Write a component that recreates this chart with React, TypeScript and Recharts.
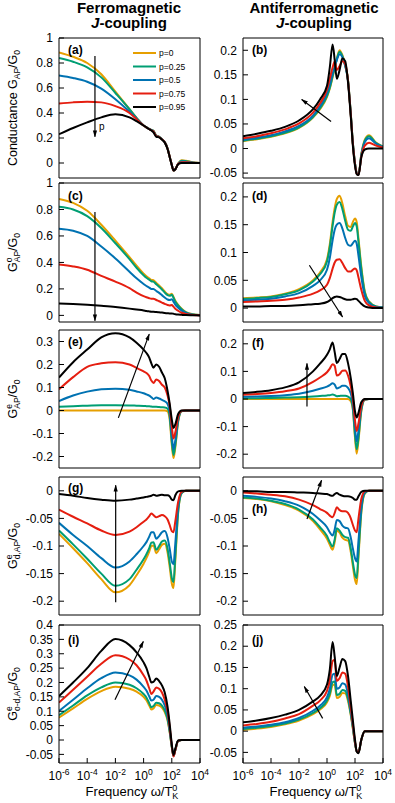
import React from "react";
import { LineChart, Line, XAxis, YAxis, ReferenceLine } from "recharts";

const FONT = "'Liberation Sans', Arial, Helvetica, sans-serif";

// log10(omega / T_K^0)
const logFreq = [-6, -5, -4, -3, -2, -1, -0.5, 0, 0.2, 0.4, 0.55, 0.7, 0.9, 1.1, 1.3, 1.5, 1.7, 1.85, 2.0, 2.12, 2.25, 2.45, 2.7, 3.0, 3.5, 4];
const pLabels = ["p=0", "p=0.25", "p=0.5", "p=0.75", "p=0.95"];
const colors = ["#e69f00", "#009e73", "#0072b2", "#e51e10", "#000000"];
const freqTicks = [-6, -4, -2, 0, 2, 4];

// (a) G_AP / G0, ferromagnetic
const panelA = [
  [0.885, 0.85, 0.8, 0.71, 0.57, 0.43, 0.36, 0.3, 0.285, 0.272, 0.265, 0.258, 0.22, 0.21, 0.19, 0.168, 0.115, 0.05, -0.015, -0.06, -0.05, -0.005, 0.022, 0.018, 0.005, 0],
  [0.84, 0.81, 0.765, 0.685, 0.56, 0.43, 0.36, 0.3, 0.285, 0.272, 0.265, 0.257, 0.219, 0.21, 0.19, 0.168, 0.115, 0.05, -0.015, -0.06, -0.05, -0.006, 0.018, 0.015, 0.004, 0],
  [0.7, 0.68, 0.65, 0.595, 0.51, 0.41, 0.355, 0.3, 0.285, 0.272, 0.264, 0.255, 0.217, 0.209, 0.19, 0.167, 0.115, 0.05, -0.015, -0.06, -0.05, -0.007, 0.013, 0.011, 0.003, 0],
  [0.475, 0.485, 0.49, 0.485, 0.455, 0.4, 0.35, 0.3, 0.285, 0.271, 0.262, 0.252, 0.215, 0.208, 0.189, 0.166, 0.114, 0.05, -0.015, -0.06, -0.05, -0.008, 0.007, 0.006, 0.002, 0],
  [0.23, 0.28, 0.325, 0.365, 0.39, 0.365, 0.335, 0.3, 0.285, 0.27, 0.26, 0.245, 0.21, 0.205, 0.187, 0.163, 0.112, 0.048, -0.017, -0.06, -0.05, -0.01, 0, 0, 0, 0],
];
// (b) G_AP / G0, antiferromagnetic
const panelB = [
  [0.015, 0.019, 0.024, 0.031, 0.042, 0.063, 0.08, 0.105, 0.122, 0.145, 0.163, 0.183, 0.2, 0.19, 0.17, 0.14, 0.07, 0.01, -0.03, -0.05, -0.054, -0.012, 0.018, 0.027, 0.012, 0.004],
  [0.016, 0.02, 0.025, 0.032, 0.043, 0.064, 0.082, 0.107, 0.124, 0.147, 0.164, 0.182, 0.197, 0.188, 0.169, 0.139, 0.07, 0.01, -0.03, -0.05, -0.054, -0.013, 0.016, 0.025, 0.011, 0.004],
  [0.018, 0.022, 0.027, 0.035, 0.046, 0.067, 0.086, 0.112, 0.13, 0.152, 0.166, 0.18, 0.192, 0.186, 0.168, 0.138, 0.07, 0.01, -0.03, -0.05, -0.054, -0.014, 0.013, 0.021, 0.01, 0.003],
  [0.021, 0.025, 0.031, 0.039, 0.051, 0.073, 0.092, 0.12, 0.142, 0.165, 0.177, 0.16, 0.168, 0.178, 0.172, 0.138, 0.068, 0.008, -0.032, -0.051, -0.054, -0.017, 0.006, 0.012, 0.006, 0.002],
  [0.025, 0.03, 0.036, 0.044, 0.057, 0.08, 0.1, 0.128, 0.165, 0.212, 0.18, 0.142, 0.16, 0.184, 0.178, 0.135, 0.065, 0.005, -0.035, -0.052, -0.054, -0.018, -0.002, 0, 0, 0],
];
// (c) G^o_AP / G0, ferromagnetic
const panelC = [
  [0.88, 0.85, 0.79, 0.685, 0.565, 0.44, 0.375, 0.315, 0.295, 0.28, 0.268, 0.265, 0.245, 0.225, 0.205, 0.18, 0.16, 0.155, 0.163, 0.14, 0.11, 0.08, 0.05, 0.025, 0.008, 0.002],
  [0.82, 0.8, 0.75, 0.66, 0.545, 0.425, 0.36, 0.303, 0.284, 0.27, 0.258, 0.255, 0.235, 0.216, 0.196, 0.172, 0.153, 0.148, 0.155, 0.133, 0.104, 0.075, 0.046, 0.022, 0.007, 0.002],
  [0.655, 0.64, 0.6, 0.52, 0.43, 0.33, 0.28, 0.237, 0.222, 0.21, 0.2, 0.2, 0.184, 0.17, 0.153, 0.135, 0.12, 0.116, 0.122, 0.104, 0.08, 0.058, 0.036, 0.018, 0.005, 0.001],
  [0.385, 0.37, 0.345, 0.298, 0.255, 0.205, 0.172, 0.145, 0.137, 0.13, 0.126, 0.126, 0.116, 0.107, 0.097, 0.087, 0.078, 0.075, 0.078, 0.066, 0.05, 0.035, 0.02, 0.01, 0.003, 0.001],
  [0.09, 0.086, 0.08, 0.072, 0.063, 0.051, 0.044, 0.037, 0.033, 0.03, 0.028, 0.028, 0.025, 0.023, 0.021, 0.018, 0.016, 0.015, 0.015, 0.012, 0.009, 0.006, 0.004, 0.002, 0.001, 0],
];
// (d) G^o_AP / G0, antiferromagnetic
const panelD = [
  [0.0175, 0.019, 0.021, 0.026, 0.034, 0.05, 0.064, 0.088, 0.115, 0.155, 0.18, 0.196, 0.202, 0.188, 0.165, 0.148, 0.146, 0.155, 0.161, 0.155, 0.125, 0.075, 0.03, 0.012, 0.003, 0.001],
  [0.0165, 0.018, 0.02, 0.025, 0.032, 0.048, 0.061, 0.084, 0.11, 0.148, 0.172, 0.186, 0.191, 0.178, 0.157, 0.141, 0.139, 0.147, 0.153, 0.147, 0.119, 0.071, 0.028, 0.011, 0.003, 0.001],
  [0.014, 0.015, 0.017, 0.021, 0.027, 0.04, 0.05, 0.069, 0.09, 0.122, 0.141, 0.15, 0.153, 0.143, 0.126, 0.114, 0.112, 0.117, 0.121, 0.116, 0.094, 0.056, 0.022, 0.009, 0.002, 0.001],
  [0.011, 0.012, 0.013, 0.015, 0.019, 0.026, 0.032, 0.042, 0.054, 0.071, 0.082, 0.087, 0.088, 0.081, 0.072, 0.066, 0.066, 0.069, 0.071, 0.068, 0.055, 0.033, 0.013, 0.005, 0.001, 0],
  [0.003, 0.003, 0.004, 0.004, 0.005, 0.007, 0.008, 0.011, 0.014, 0.018, 0.02, 0.021, 0.02, 0.018, 0.016, 0.015, 0.015, 0.016, 0.017, 0.016, 0.013, 0.008, 0.003, 0.001, 0, 0],
];
// (e) G^e_AP / G0, ferromagnetic
const panelE = [
  [0, 0, 0, 0, 0, 0, 0, 0, 0, 0, 0, 0, 0, 0, 0, 0, -0.004, -0.04, -0.15, -0.207, -0.16, -0.05, -0.003, 0, 0, 0],
  [0.016, 0.019, 0.021, 0.023, 0.023, 0.022, 0.021, 0.02, 0.019, 0.018, 0.017, 0.016, 0.016, 0.015, 0.014, 0.013, 0.008, -0.025, -0.135, -0.193, -0.15, -0.045, -0.002, 0, 0, 0],
  [0.041, 0.065, 0.082, 0.092, 0.095, 0.09, 0.083, 0.075, 0.07, 0.065, 0.058, 0.05, 0.056, 0.052, 0.046, 0.04, 0.028, -0.005, -0.11, -0.168, -0.13, -0.04, -0.002, 0, 0, 0],
  [0.092, 0.145, 0.19, 0.205, 0.21, 0.2, 0.185, 0.17, 0.163, 0.15, 0.13, 0.12, 0.135, 0.128, 0.112, 0.1, 0.065, 0.02, -0.07, -0.122, -0.095, -0.028, -0.001, 0, 0, 0],
  [0.143, 0.21, 0.265, 0.318, 0.336, 0.318, 0.295, 0.265, 0.25, 0.23, 0.205, 0.186, 0.2, 0.19, 0.165, 0.14, 0.085, 0.03, -0.04, -0.076, -0.06, -0.015, 0, 0, 0, 0],
];
// (f) G^e_AP / G0, antiferromagnetic
const panelF = [
  [0, 0, 0, 0, 0, 0, 0, 0, 0, 0, 0, 0, 0, 0, 0, 0, -0.008, -0.04, -0.14, -0.198, -0.15, -0.045, -0.003, 0, 0, 0],
  [0.003, 0.003, 0.004, 0.005, 0.006, 0.009, 0.011, 0.013, 0.014, 0.016, 0.014, 0.01, 0.011, 0.012, 0.012, 0.009, 0, -0.035, -0.13, -0.182, -0.14, -0.04, -0.002, 0, 0, 0],
  [0.008, 0.009, 0.011, 0.014, 0.019, 0.03, 0.037, 0.045, 0.05, 0.057, 0.052, 0.038, 0.042, 0.048, 0.048, 0.04, 0.02, -0.02, -0.105, -0.153, -0.115, -0.033, -0.002, 0, 0, 0],
  [0.015, 0.018, 0.022, 0.028, 0.038, 0.062, 0.078, 0.097, 0.11, 0.126, 0.12, 0.085, 0.09, 0.102, 0.103, 0.085, 0.045, 0, -0.078, -0.116, -0.088, -0.025, -0.001, 0, 0, 0],
  [0.022, 0.026, 0.032, 0.042, 0.06, 0.1, 0.128, 0.16, 0.18, 0.205, 0.17, 0.13, 0.145, 0.163, 0.163, 0.13, 0.075, 0.02, -0.045, -0.067, -0.05, -0.012, 0, 0, 0, 0],
];
// (g) G^e_d,AP / G0, ferromagnetic
const panelG = [
  [-0.078, -0.104, -0.131, -0.16, -0.184, -0.171, -0.153, -0.132, -0.122, -0.11, -0.1, -0.099, -0.113, -0.106, -0.098, -0.096, -0.112, -0.138, -0.168, -0.176, -0.126, -0.04, -0.004, 0, 0, 0],
  [-0.072, -0.097, -0.123, -0.15, -0.172, -0.16, -0.143, -0.124, -0.115, -0.104, -0.094, -0.093, -0.107, -0.1, -0.092, -0.09, -0.105, -0.13, -0.158, -0.165, -0.118, -0.038, -0.004, 0, 0, 0],
  [-0.058, -0.08, -0.1, -0.122, -0.139, -0.128, -0.115, -0.1, -0.093, -0.083, -0.075, -0.075, -0.087, -0.082, -0.075, -0.073, -0.085, -0.105, -0.128, -0.133, -0.095, -0.03, -0.003, 0, 0, 0],
  [-0.034, -0.047, -0.059, -0.072, -0.08, -0.074, -0.066, -0.056, -0.052, -0.046, -0.041, -0.044, -0.048, -0.046, -0.044, -0.046, -0.052, -0.062, -0.073, -0.075, -0.055, -0.02, -0.002, 0, 0, 0],
  [-0.006, -0.009, -0.013, -0.016, -0.018, -0.016, -0.014, -0.012, -0.011, -0.01, -0.009, -0.007, -0.009, -0.008, -0.007, -0.008, -0.008, -0.01, -0.016, -0.017, -0.008, -0.001, 0, 0, 0, 0],
];
// (h) G^e_d,AP / G0, antiferromagnetic
const panelH = [
  [-0.013, -0.015, -0.019, -0.026, -0.036, -0.055, -0.07, -0.087, -0.098, -0.107, -0.093, -0.072, -0.076, -0.085, -0.089, -0.09, -0.111, -0.137, -0.161, -0.169, -0.12, -0.04, -0.005, 0, 0, 0],
  [-0.012, -0.014, -0.018, -0.024, -0.034, -0.052, -0.066, -0.082, -0.093, -0.101, -0.088, -0.068, -0.072, -0.08, -0.084, -0.085, -0.105, -0.13, -0.152, -0.158, -0.112, -0.037, -0.004, 0, 0, 0],
  [-0.009, -0.011, -0.014, -0.019, -0.027, -0.042, -0.053, -0.066, -0.075, -0.081, -0.07, -0.053, -0.055, -0.063, -0.067, -0.068, -0.085, -0.105, -0.122, -0.128, -0.09, -0.03, -0.003, 0, 0, 0],
  [-0.003, -0.005, -0.007, -0.01, -0.016, -0.026, -0.033, -0.04, -0.045, -0.048, -0.04, -0.03, -0.035, -0.037, -0.037, -0.04, -0.05, -0.062, -0.072, -0.075, -0.05, -0.015, -0.001, 0, 0, 0],
  [-0.001, -0.001, -0.002, -0.002, -0.003, -0.004, -0.005, -0.006, -0.008, -0.009, -0.006, -0.004, -0.007, -0.009, -0.01, -0.01, -0.011, -0.013, -0.016, -0.016, -0.01, -0.002, 0, 0, 0, 0],
];
// (i) G^e_o-d,AP / G0, ferromagnetic
const panelI = [
  [0.078, 0.11, 0.143, 0.17, 0.185, 0.178, 0.168, 0.15, 0.138, 0.12, 0.106, 0.11, 0.122, 0.12, 0.113, 0.097, 0.068, 0.027, -0.025, -0.055, -0.035, -0.003, 0, 0, 0, 0],
  [0.086, 0.12, 0.155, 0.183, 0.2, 0.192, 0.18, 0.16, 0.148, 0.128, 0.114, 0.118, 0.13, 0.128, 0.12, 0.103, 0.073, 0.03, -0.024, -0.055, -0.035, -0.003, 0, 0, 0, 0],
  [0.101, 0.14, 0.18, 0.215, 0.235, 0.225, 0.21, 0.185, 0.172, 0.152, 0.137, 0.14, 0.153, 0.15, 0.14, 0.12, 0.085, 0.035, -0.022, -0.056, -0.035, -0.003, 0, 0, 0, 0],
  [0.13, 0.175, 0.22, 0.265, 0.295, 0.28, 0.26, 0.225, 0.207, 0.18, 0.16, 0.168, 0.183, 0.178, 0.165, 0.14, 0.1, 0.045, -0.02, -0.057, -0.035, -0.003, 0, 0, 0, 0],
  [0.153, 0.2, 0.25, 0.31, 0.351, 0.33, 0.305, 0.27, 0.25, 0.22, 0.2, 0.202, 0.214, 0.205, 0.19, 0.165, 0.115, 0.055, -0.015, -0.052, -0.03, -0.002, 0, 0, 0, 0],
];
// (j) G^e_o-d,AP / G0, antiferromagnetic
const panelJ = [
  [0.003, 0.006, 0.01, 0.016, 0.025, 0.04, 0.051, 0.068, 0.083, 0.108, 0.11, 0.078, 0.081, 0.09, 0.089, 0.071, 0.037, 0.005, -0.028, -0.047, -0.05, -0.02, 0, 0, 0, 0],
  [0.005, 0.008, 0.012, 0.018, 0.027, 0.043, 0.054, 0.072, 0.088, 0.115, 0.117, 0.085, 0.088, 0.097, 0.095, 0.076, 0.04, 0.007, -0.028, -0.047, -0.05, -0.02, 0, 0, 0, 0],
  [0.008, 0.011, 0.015, 0.021, 0.031, 0.048, 0.06, 0.08, 0.1, 0.133, 0.135, 0.1, 0.103, 0.113, 0.11, 0.087, 0.045, 0.01, -0.027, -0.047, -0.05, -0.02, 0, 0, 0, 0],
  [0.0135, 0.017, 0.022, 0.03, 0.04, 0.06, 0.072, 0.095, 0.12, 0.165, 0.168, 0.118, 0.125, 0.138, 0.135, 0.105, 0.055, 0.015, -0.025, -0.047, -0.05, -0.02, 0, 0, 0, 0],
  [0.021, 0.025, 0.031, 0.039, 0.05, 0.07, 0.083, 0.11, 0.145, 0.21, 0.175, 0.13, 0.15, 0.17, 0.165, 0.13, 0.07, 0.025, -0.02, -0.048, -0.052, -0.02, 0, 0, 0, 0],
];

const rowTop = [38, 183, 330, 477, 625];
const rowBottom = [178, 322, 468, 615, 763];
const colLeft = [59, 243];
const colWidth = [141, 140];
const PAD = 9; // room around each plot so edge tick labels are not clipped

type PanelSpec = {
  tag: string;
  col: number;
  row: number;
  domain: [number, number];
  ticks: number[];
  series: number[][];
  arrow: [[number, number], [number, number]];
  tagDy: number;
};

const panels: PanelSpec[] = [
  { tag: "(a)", col: 0, row: 0, domain: [-0.12, 1], ticks: [0, 0.2, 0.4, 0.6, 0.8, 1], series: panelA, arrow: [[-3.45, 0.857], [-3.45, 0.21]], tagDy: 16 },
  { tag: "(b)", col: 1, row: 0, domain: [-0.06, 0.225], ticks: [-0.05, 0, 0.05, 0.1, 0.15, 0.2], series: panelB, arrow: [[0.29, 0.055], [-1.81, 0.1]], tagDy: 16 },
  { tag: "(c)", col: 0, row: 1, domain: [-0.05, 1], ticks: [0, 0.2, 0.4, 0.6, 0.8, 1], series: panelC, arrow: [[-3.45, 0.78], [-3.45, -0.04]], tagDy: 17 },
  { tag: "(d)", col: 1, row: 1, domain: [-0.025, 0.225], ticks: [0, 0.05, 0.1, 0.15, 0.2], series: panelD, arrow: [[-1.26, 0.077], [1.11, -0.016]], tagDy: 17 },
  { tag: "(e)", col: 0, row: 2, domain: [-0.25, 0.35], ticks: [-0.2, -0.1, 0, 0.1, 0.2, 0.3], series: panelE, arrow: [[-1.79, -0.032], [0.4, 0.332]], tagDy: 16 },
  { tag: "(f)", col: 1, row: 2, domain: [-0.25, 0.25], ticks: [-0.2, -0.1, 0, 0.1, 0.2], series: panelF, arrow: [[-1.43, -0.027], [-1.43, 0.129]], tagDy: 17 },
  { tag: "(g)", col: 0, row: 3, domain: [-0.225, 0.025], ticks: [-0.2, -0.15, -0.1, -0.05, 0], series: panelG, arrow: [[-1.98, -0.202], [-1.98, 0.01]], tagDy: 15 },
  { tag: "(h)", col: 1, row: 3, domain: [-0.225, 0.025], ticks: [-0.2, -0.15, -0.1, -0.05, 0], series: panelH, arrow: [[-1.43, -0.051], [-0.39, 0.019]], tagDy: 36 },
  { tag: "(i)", col: 0, row: 4, domain: [-0.08, 0.4], ticks: [-0.05, 0, 0.05, 0.1, 0.15, 0.2, 0.25, 0.3, 0.35, 0.4], series: panelI, arrow: [[-2.03, 0.14], [-0.02, 0.343]], tagDy: 19 },
  { tag: "(j)", col: 1, row: 4, domain: [-0.075, 0.25], ticks: [-0.05, 0, 0.05, 0.1, 0.15, 0.2, 0.25], series: panelJ, arrow: [[-0.31, 0.03], [-1.62, 0.105]], tagDy: 19 },
];

const fmt = (v: number) => String(Math.round(v * 1000) / 1000);

const PowTick = (props: any) => {
  const { x, y, payload } = props;
  return (
    <text x={x} y={y + 12} textAnchor="middle" fontSize={12} fontFamily={FONT} fill="#000">
      10
      <tspan dy={-5} fontSize={8.5}>
        {payload.value}
      </tspan>
    </text>
  );
};

const ArrowShape = (props: any) => (
  <line x1={props.x1} y1={props.y1} x2={props.x2} y2={props.y2} stroke="#000" strokeWidth={1.2} markerEnd="url(#ahead)" />
);

const Panel = ({ spec }: { spec: PanelSpec }) => {
  const yW = spec.col === 0 ? 59 : 50;
  const plotW = colWidth[spec.col];
  const plotH = rowBottom[spec.row] - rowTop[spec.row];
  const bottomH = spec.row === 4 ? 34 : 2;
  const width = yW + plotW + 2 + PAD + 3;
  const height = PAD + 2 + plotH + bottomH + PAD;
  const data = logFreq.map((x, i) => {
    const r: any = { x };
    spec.series.forEach((s, k) => (r["s" + k] = s[i]));
    return r;
  });
  return (
    <div style={{ position: "absolute", left: colLeft[spec.col] - yW, top: rowTop[spec.row] - 2 - PAD }}>
      <LineChart width={width} height={height} data={data} margin={{ top: PAD, right: PAD + 3, bottom: PAD, left: 0 }}>
        <XAxis
          xAxisId="b"
          dataKey="x"
          type="number"
          domain={[-6, 4]}
          ticks={freqTicks}
          allowDataOverflow
          orientation="bottom"
          height={bottomH}
          stroke="#000"
          tickSize={-5}
          tickMargin={10}
          interval={0}
          tick={spec.row === 4 ? <PowTick /> : false}
        />
        <XAxis
          xAxisId="t"
          dataKey="x"
          type="number"
          domain={[-6, 4]}
          ticks={freqTicks}
          allowDataOverflow
          orientation="top"
          height={2}
          stroke="#000"
          tickSize={-5}
          interval={0}
          tick={false}
        />
        <YAxis
          yAxisId="l"
          type="number"
          domain={spec.domain}
          ticks={spec.ticks}
          allowDataOverflow
          width={yW}
          stroke="#000"
          tickSize={-5}
          tickMargin={11}
          interval={0}
          tickFormatter={fmt}
          tick={{ fontSize: 12, fill: "#000", fontFamily: FONT }}
        />
        <YAxis
          yAxisId="r"
          orientation="right"
          type="number"
          domain={spec.domain}
          ticks={spec.ticks}
          allowDataOverflow
          width={2}
          stroke="#000"
          tickSize={-5}
          interval={0}
          tick={false}
        />
        {spec.series.map((_, k) => (
          <Line
            key={k}
            xAxisId="b"
            yAxisId="l"
            type="monotone"
            dataKey={"s" + k}
            stroke={colors[k]}
            strokeWidth={2}
            dot={false}
            isAnimationActive={false}
          />
        ))}
        <ReferenceLine
          xAxisId="b"
          yAxisId="l"
          segment={[
            { x: spec.arrow[0][0], y: spec.arrow[0][1] },
            { x: spec.arrow[1][0], y: spec.arrow[1][1] },
          ]}
          shape={ArrowShape}
        />
      </LineChart>
    </div>
  );
};

const yLabels = [
  { row: 0, main: "Conductance G", sup: "", sub: "AP" },
  { row: 1, main: "G", sup: "o", sub: "AP" },
  { row: 2, main: "G", sup: "e", sub: "AP" },
  { row: 3, main: "G", sup: "e", sub: "d,AP" },
  { row: 4, main: "G", sup: "e", sub: "o-d,AP" },
];

const YLabel = ({ row, main, sup, sub }: { row: number; main: string; sup: string; sub: string }) => {
  const cy = (rowTop[row] + rowBottom[row]) / 2;
  return (
    <text transform={`translate(17, ${cy}) rotate(-90)`} textAnchor="middle" fontSize={12.5} fontFamily={FONT} fill="#000">
      {main}
      {sup ? (
        <>
          <tspan dy={-5} fontSize={8.5}>{sup}</tspan>
          <tspan dx={-4.7} dy={8} fontSize={8.5}>{sub}</tspan>
        </>
      ) : (
        <tspan dy={3} fontSize={8.5}>{sub}</tspan>
      )}
      <tspan dy={-3}>/G</tspan>
      <tspan dy={3} fontSize={8.5}>0</tspan>
    </text>
  );
};

const XTitle = ({ cx }: { cx: number }) => (
  <text x={cx} y={796} textAnchor="middle" fontSize={13} fontFamily={FONT} fill="#000">
    Frequency ω/T
    <tspan dy={-5} fontSize={9}>0</tspan>
    <tspan dx={-5} dy={8} fontSize={9}>K</tspan>
  </text>
);

const ColTitle = ({ cx, name }: { cx: number; name: string }) => (
  <g fontFamily={FONT} fontWeight="bold" fontSize={15} fill="#000" textAnchor="middle">
    <text x={cx} y={13}>{name}</text>
    <text x={cx} y={28}>
      <tspan fontStyle="italic">J</tspan>-coupling
    </text>
  </g>
);

export default function App() {
  return (
    <div style={{ position: "absolute", left: 0, top: 0, width: 395, height: 803, background: "#fff", overflow: "hidden" }}>
      <svg width={0} height={0} style={{ position: "absolute" }}>
        <defs>
          <marker id="ahead" viewBox="0 0 10 10" refX="9" refY="5" markerWidth="7" markerHeight="7" markerUnits="userSpaceOnUse" orient="auto">
            <path d="M0,2 L10,5 L0,8 z" fill="#000" />
          </marker>
        </defs>
      </svg>
      {panels.map((p) => (
        <Panel key={p.tag} spec={p} />
      ))}
      <svg width={395} height={803} style={{ position: "absolute", left: 0, top: 0, pointerEvents: "none" }}>
        <ColTitle cx={129} name="Ferromagnetic" />
        <ColTitle cx={314} name="Antiferromagnetic" />
        {yLabels.map((l) => (
          <YLabel key={l.row} {...l} />
        ))}
        <XTitle cx={132} />
        <XTitle cx={316} />
        {panels.map((p) => (
          <text key={p.tag} x={colLeft[p.col] + 9} y={rowTop[p.row] + p.tagDy} fontSize={12} fontWeight="bold" fontFamily={FONT} fill="#000">
            {p.tag}
          </text>
        ))}
        {pLabels.map((lab, k) => (
          <g key={lab}>
            <line x1={133} x2={156} y1={53 + k * 13.5} y2={53 + k * 13.5} stroke={colors[k]} strokeWidth={2} />
            <text x={159} y={56 + k * 13.5} fontSize={8.5} fontFamily={FONT} fill="#000">
              {lab}
            </text>
          </g>
        ))}
        <text x={99} y={130} fontSize={10} fontFamily={FONT} fill="#000">p</text>
      </svg>
    </div>
  );
}
